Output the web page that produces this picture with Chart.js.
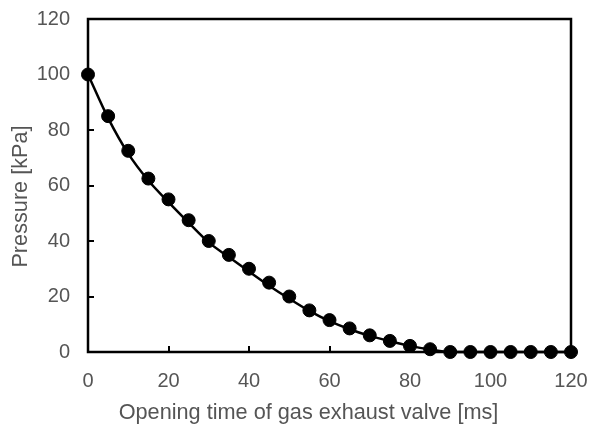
<!DOCTYPE html>
<html>
<head>
<meta charset="utf-8">
<script src="https://cdn.jsdelivr.net/npm/chart.js@4/dist/chart.umd.min.js"></script>
<style>
  html, body { margin: 0; padding: 0; background: #fff; }
  #wrap { width: 589px; height: 427px; }
</style>
</head>
<body>
<div id="wrap"><canvas id="c" width="589" height="427"></canvas></div>
<script>
// Measured points (ms, kPa)
const timeMs = [0, 5, 10, 15, 20, 25, 30, 35, 40, 45, 50, 55, 60, 65, 70, 75, 80, 85, 90, 95, 100, 105, 110, 115, 120];
const pressure = [100, 85, 72.5, 62.5, 55, 47.5, 40, 35, 30, 25, 20, 15, 11.5, 8.5, 6, 4, 2.2, 1, 0, 0, 0, 0, 0, 0, 0];
// Fitted curve
const fitPressure = [100, 84.3, 71.5, 61.8, 54, 46.6, 39.5, 34.2, 29, 23.9, 19.2, 14.8, 11.1, 8.2, 5.8, 3.9, 2.2, 0.9, 0, 0, 0, 0, 0, 0, 0];

const xTicks = [0, 20, 40, 60, 80, 100, 120];
const yTicks = [0, 20, 40, 60, 80, 100, 120];
const xTitle = 'Opening time of gas exhaust valve [ms]';
const yTitle = 'Pressure [kPa]';

const TEXT = '#555555';
const FONT = 'Arial, "Liberation Sans", sans-serif';

// Box round the plot, inward tick marks, and axis titles (offset like the original)
const frame = {
  id: 'frame',
  afterDraw(chart) {
    const { ctx, chartArea: a, scales } = chart;
    ctx.save();
    ctx.strokeStyle = '#000';
    ctx.lineWidth = 2.5;
    ctx.strokeRect(a.left, a.top, a.right - a.left, a.bottom - a.top);
    ctx.lineWidth = 2;
    ctx.beginPath();
    yTicks.forEach(v => {
      const y = Math.round(scales.y.getPixelForValue(v));
      ctx.moveTo(a.left, y); ctx.lineTo(a.left + 6, y);
    });
    xTicks.forEach(v => {
      const x = Math.round(scales.x.getPixelForValue(v));
      ctx.moveTo(x, a.bottom); ctx.lineTo(x, a.bottom - 6);
    });
    ctx.stroke();

    ctx.fillStyle = TEXT;
    ctx.font = '21.7px ' + FONT;
    ctx.textAlign = 'center';
    ctx.textBaseline = 'middle';
    ctx.fillText(xTitle, (a.left + a.right) / 2 - 21, a.bottom + 61);
    ctx.translate(a.left - 67, (a.top + a.bottom) / 2 + 11);
    ctx.rotate(-Math.PI / 2);
    ctx.fillText(yTitle, 0, 0);
    ctx.restore();
  }
};

new Chart(document.getElementById('c'), {
  type: 'scatter',
  data: {
    datasets: [
      {
        data: timeMs.map((t, i) => ({ x: t, y: pressure[i] })),
        backgroundColor: '#000',
        borderColor: '#000',
        pointRadius: 6.5,
        showLine: false,
        clip: false,
        order: 1,
      },
      {
        data: timeMs.map((t, i) => ({ x: t, y: fitPressure[i] })),
        borderColor: '#000',
        borderWidth: 2.5,
        pointRadius: 0,
        showLine: true,
        cubicInterpolationMode: 'monotone',
        clip: false,
        order: 2,
      },
    ],
  },
  options: {
    responsive: false,
    animation: false,
    layout: { padding: { top: 19, right: 18, left: 0, bottom: 0 } },
    plugins: { legend: { display: false }, tooltip: { enabled: false } },
    scales: {
      x: {
        type: 'linear',
        min: 0, max: 120,
        afterBuildTicks: s => { s.ticks = xTicks.map(v => ({ value: v })); },
        afterFit: s => { s.height = 75; s.paddingLeft = 0; s.paddingRight = 0; },
        grid: { display: false, drawTicks: false },
        border: { display: false },
        ticks: { color: TEXT, font: { family: FONT, size: 20 }, padding: 17 },
      },
      y: {
        min: 0, max: 120,
        afterBuildTicks: s => { s.ticks = yTicks.map(v => ({ value: v })); },
        afterFit: s => { s.width = 88; s.paddingTop = 0; s.paddingBottom = 0; },
        grid: { display: false, drawTicks: false },
        border: { display: false },
        ticks: { color: TEXT, font: { family: FONT, size: 20 }, padding: 18 },
      },
    },
  },
  plugins: [frame],
});
</script>
</body>
</html>
